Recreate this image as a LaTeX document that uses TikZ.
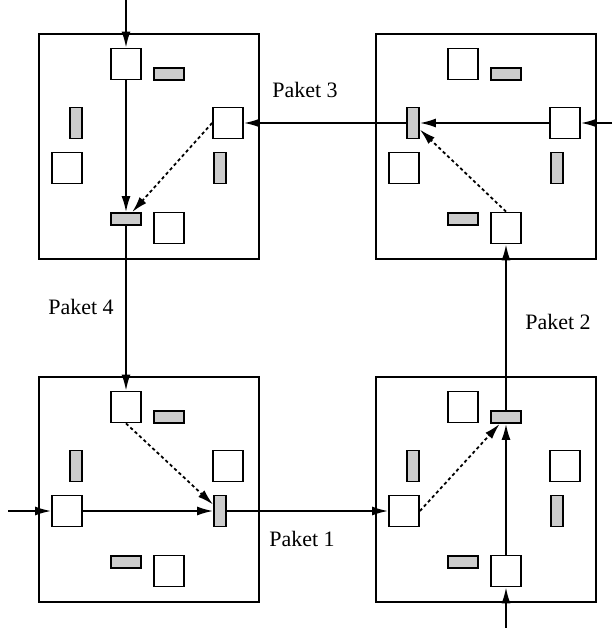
\documentclass[tikz,border=0pt]{standalone}
\usepackage{fontspec}
\setmainfont{Liberation Serif}
\usetikzlibrary{arrows.meta}

\tikzset{
  port/.style={draw, fill=white, inner sep=0pt, minimum width=15pt, minimum height=15.5pt},
  hbuf/.style={draw, fill=gray!40, inner sep=0pt, minimum width=15pt, minimum height=6pt},
  vbuf/.style={draw, fill=gray!40, inner sep=0pt, minimum width=6pt, minimum height=15.5pt},
  router/.style={draw, inner sep=0pt, minimum width=110pt, minimum height=112.5pt},
  flow/.style={-{Latex[length=8pt,width=4.5pt]}},
  detour/.style={flow, dash pattern=on 1.6pt off 1.4pt},
  lbl/.style={font=\fontsize{11}{13}\selectfont},
}

\begin{document}
\begin{tikzpicture}[x=0.5pt, y=-0.5pt, line width=0.9pt]
\useasboundingbox (0,0) rectangle (612,628);
% Router
\foreach \r/\bx/\by in {tl/38/33, tr/375/33, bl/38/376, br/375/376} {
  \node[router, anchor=north west] (\r) at (\bx,\by) {};
  \node[port] (\r-n)  at ([shift={(88,31)}]\r.north west) {};
  \node[hbuf] (\r-nb) at ([shift={(131,41)}]\r.north west) {};
  \node[vbuf] (\r-wb) at ([shift={(38,90)}]\r.north west) {};
  \node[port] (\r-e)  at ([shift={(190,90)}]\r.north west) {};
  \node[port] (\r-w)  at ([shift={(29,135)}]\r.north west) {};
  \node[vbuf] (\r-eb) at ([shift={(182,135)}]\r.north west) {};
  \node[hbuf] (\r-sb) at ([shift={(88,186)}]\r.north west) {};
  \node[port] (\r-s)  at ([shift={(131,195)}]\r.north west) {};
}
% Eingaenge
\coordinate (in-tl) at (126,0);
\coordinate (in-tr) at (612,123);
\coordinate (in-bl) at (8,511);
\coordinate (in-br) at (506,628);
% Paket 4
\draw[flow] (in-tl) -- (tl-n);
\draw[flow] (tl-n) -- (tl-sb);
\draw[flow] (tl-sb) -- (bl-n);
\draw[detour] (tl-e.west) -- (tl-sb);
% Paket 3
\draw[flow] (in-tr) -- (tr-e);
\draw[flow] (tr-e) -- (tr-wb);
\draw[flow] (tr-wb) -- (tl-e);
\draw[detour] (tr-s.north) -- (tr-wb);
% Paket 1
\draw[flow] (in-bl) -- (bl-w);
\draw[flow] (bl-w) -- (bl-eb);
\draw[flow] (bl-eb) -- (br-w);
\draw[detour] (bl-n.south) -- (bl-eb);
% Paket 2
\draw[flow] (in-br) -- (br-s);
\draw[flow] (br-s) -- (br-nb);
\draw[flow] (br-nb) -- (tr-s);
\draw[detour] (br-w.east) -- (br-nb);
% Beschriftung
\node[lbl] (p3) at (305,90) {Paket 3};
\node[lbl] (p4) at (81,307) {Paket 4};
\node[lbl] (p2) at (558,322) {Paket 2};
\node[lbl] (p1) at (302,539) {Paket 1};
\end{tikzpicture}
\end{document}
